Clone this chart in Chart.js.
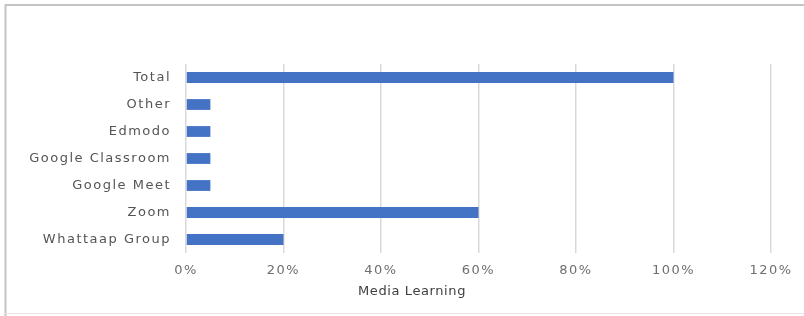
<!DOCTYPE html>
<html>
<head>
<meta charset="utf-8">
<script src="https://cdn.jsdelivr.net/npm/chart.js@4/dist/chart.umd.min.js"></script>
<style>
  html, body { margin: 0; padding: 0; background: #ffffff; }
  #wrap { width: 804px; height: 316px; }
</style>
</head>
<body>
<div id="wrap"><canvas id="c" width="804" height="316"></canvas></div>
<script>
const categories = ["Total", "Other", "Edmodo", "Google Classroom", "Google Meet", "Zoom", "Whattaap Group"];
const percentValues = [100, 5, 5, 5, 5, 60, 20];
const axisTitle = "Media Learning";
const axisMax = 120;
const axisStep = 20;

const FONT = "'DejaVu Sans', sans-serif";

const framePlugin = {
  id: 'frame',
  beforeDraw(chart) {
    const ctx = chart.ctx;
    ctx.save();
    ctx.fillStyle = '#ffffff';
    ctx.fillRect(0, 0, chart.width, chart.height);
    ctx.strokeStyle = '#c4c4c4';
    ctx.lineWidth = 2;
    ctx.beginPath();
    ctx.moveTo(5.5, 316);
    ctx.lineTo(5.5, 5);
    ctx.lineTo(804, 5);
    ctx.stroke();
    ctx.strokeStyle = '#e6e6e6';
    ctx.lineWidth = 1;
    ctx.beginPath();
    ctx.moveTo(5, 313.5);
    ctx.lineTo(804, 313.5);
    ctx.stroke();
    ctx.restore();
    ctx.letterSpacing = '1.5px';
  },
  afterDraw(chart) {
    const ctx = chart.ctx;
    ctx.save();
    ctx.letterSpacing = '0.6px';
    ctx.font = "13px " + FONT;
    ctx.fillStyle = '#404040';
    ctx.textAlign = 'center';
    ctx.textBaseline = 'middle';
    ctx.fillText(axisTitle, 412, 292);
    ctx.restore();
    ctx.letterSpacing = '0px';
  }
};

new Chart(document.getElementById('c'), {
  type: 'bar',
  data: {
    labels: categories,
    datasets: [{
      data: percentValues,
      backgroundColor: '#4472C4',
      borderWidth: 0,
      categoryPercentage: 1.0,
      barPercentage: 0.4
    }]
  },
  options: {
    indexAxis: 'y',
    responsive: false,
    animation: false,
    devicePixelRatio: 1,
    layout: { padding: { left: 0, right: 33, top: 64, bottom: 0 } },
    plugins: {
      legend: { display: false },
      tooltip: { enabled: false },
      title: { display: false }
    },
    scales: {
      x: {
        min: 0,
        max: axisMax,
        grid: { color: '#d9d9d9', lineWidth: 1.5, drawTicks: false },
        border: { display: false },
        ticks: {
          stepSize: axisStep,
          padding: 10,
          color: '#6e6e6e',
          font: { family: FONT, size: 13 },
          callback: v => v + '%'
        },
        afterFit(scale) { scale.height = 63; }
      },
      y: {
        grid: { display: false, drawTicks: false },
        border: { display: false },
        ticks: {
          padding: 15,
          color: '#555555',
          font: { family: FONT, size: 13 }
        },
        afterFit(scale) { scale.width = 186; }
      }
    }
  },
  plugins: [framePlugin]
});
</script>
</body>
</html>
